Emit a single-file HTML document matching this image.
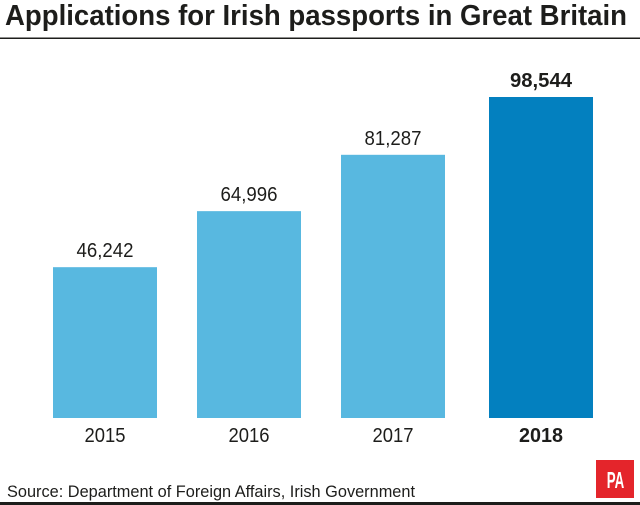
<!DOCTYPE html>
<html lang="en">
<head>
<meta charset="utf-8">
<title>Applications for Irish passports in Great Britain</title>
<style>
html,body{margin:0;padding:0;background:#fff;width:640px;height:505px;overflow:hidden}
svg{display:block;font-family:"Liberation Sans",sans-serif}
</style>
</head>
<body>
<svg id="chart" width="640" height="505" viewBox="0 0 640 505" xmlns="http://www.w3.org/2000/svg">
  <rect x="0" y="0" width="640" height="505" fill="#ffffff"/>
  <text x="5" y="25" font-size="29" font-weight="700" fill="#1d1d1b" textLength="622" lengthAdjust="spacingAndGlyphs">Applications for Irish passports in Great Britain</text>
  <rect x="0" y="37.5" width="640" height="1.5" fill="#1d1d1b"/>
  <g id="bars"></g>
  <g id="bar-labels"></g>
  <g id="x-labels"></g>
  <text x="7" y="497" font-size="17" fill="#1d1d1b" textLength="408" lengthAdjust="spacingAndGlyphs">Source: Department of Foreign Affairs, Irish Government</text>
  <g>
    <rect x="596" y="460" width="38" height="38" fill="#e4252b"/>
    <text x="615.5" y="488" font-size="23.5" font-weight="700" fill="#ffffff" text-anchor="middle" textLength="17.5" lengthAdjust="spacingAndGlyphs">PA</text>
  </g>
  <rect x="0" y="502" width="640" height="3" fill="#1d1d1b"/>
</svg>
<script>
const categories = ["2015", "2016", "2017", "2018"];
// Bar lengths, in the same units as the printed figures.
const drawnValues = [46300, 63500, 80800, 98544];
// Figures printed above the bars.
const printedValues = ["46,242", "64,996", "81,287", "98,544"];
const highlightedCategories = ["2018"];

const SVG_NS = "http://www.w3.org/2000/svg";
const baselineY = 418;
const topY = 97;
const domainMax = 98544;
const barWidth = 104;
const firstBarX = 53;
const barStep = 144;
const highlightOffset = 4;

function xScale(index) {
  const offset = highlightedCategories.includes(categories[index]) ? highlightOffset : 0;
  return firstBarX + index * barStep + offset;
}
function yScale(value) {
  return baselineY - (value / domainMax) * (baselineY - topY);
}

const barsGroup = document.getElementById("bars");
const valueGroup = document.getElementById("bar-labels");
const xGroup = document.getElementById("x-labels");

categories.forEach(function (category, index) {
  const isHighlighted = highlightedCategories.includes(category);
  const x = xScale(index);
  const y = yScale(drawnValues[index]);
  const centre = x + barWidth / 2;

  const bar = document.createElementNS(SVG_NS, "rect");
  
  
  bar.setAttribute("x", x);
  bar.setAttribute("y", y);
  bar.setAttribute("width", barWidth);
  bar.setAttribute("height", baselineY - y);
  bar.setAttribute("fill", isHighlighted ? "#0380bf" : "#58b8e0");
  barsGroup.appendChild(bar);

  const valueLabel = document.createElementNS(SVG_NS, "text");
  
  
  valueLabel.setAttribute("x", centre);
  valueLabel.setAttribute("y", y - 10);
  valueLabel.setAttribute("font-size", "20");
  valueLabel.setAttribute("font-weight", isHighlighted ? "700" : "400");
  valueLabel.setAttribute("fill", "#1d1d1b");
  valueLabel.setAttribute("text-anchor", "middle");
  valueLabel.setAttribute("textLength", isHighlighted ? "62" : "57");
  valueLabel.setAttribute("lengthAdjust", "spacingAndGlyphs");
  valueLabel.textContent = printedValues[index];
  valueGroup.appendChild(valueLabel);

  const xLabel = document.createElementNS(SVG_NS, "text");
  
  
  xLabel.setAttribute("x", centre);
  xLabel.setAttribute("y", 442);
  xLabel.setAttribute("font-size", "20");
  xLabel.setAttribute("font-weight", isHighlighted ? "700" : "400");
  xLabel.setAttribute("fill", "#1d1d1b");
  xLabel.setAttribute("text-anchor", "middle");
  xLabel.setAttribute("textLength", isHighlighted ? "44" : "41");
  xLabel.setAttribute("lengthAdjust", "spacingAndGlyphs");
  xLabel.textContent = category;
  xGroup.appendChild(xLabel);
});
</script>
</body>
</html>
